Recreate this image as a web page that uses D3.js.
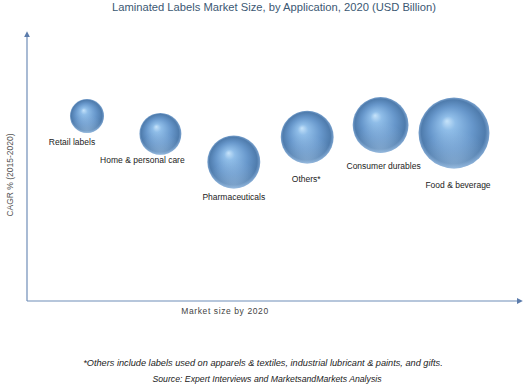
<!DOCTYPE html>
<html>
<head>
<meta charset="utf-8">
<script src="https://cdn.jsdelivr.net/npm/d3@7"></script>
<style>
  body { margin: 0; background: #fff; }
  text { font-family: "Liberation Sans", Arial, sans-serif; }
</style>
</head>
<body>
<script>
var width = 530;
var height = 387;

// data (x = rank by market size, y = CAGR estimate, r = market size)
var categories = ['Retail labels', 'Home & personal care', 'Pharmaceuticals', 'Others*', 'Consumer durables', 'Food & beverage'];
var cagr = [6.85, 6.19, 5.15, 6.07, 6.52, 6.22];
var marketSize = [0.29, 0.44, 0.70, 0.70, 0.78, 1.26];

// label nudges relative to bubble bottom
var labelDx = [-15, -18, 0, -1, 3, 4];
var labelDy = [12, 8, 12, 18, 16, 19];

var svg = d3.select('body')
  .append('svg')
  .attr('width', width)
  .attr('height', height);

var x = d3.scalePoint()
  .domain(categories)
  .range([87, 454]);

var y = d3.scaleLinear()
  .domain([0, 10])
  .range([301, 31]);

var r = d3.scaleSqrt()
  .domain([0, d3.max(marketSize)])
  .range([0, 35.5]);

var defs = svg.append('defs');

var grad = defs.append('radialGradient')
  .attr('id', 'sphere')
  .attr('cx', '50%').attr('cy', '50%').attr('r', '50%')
  .attr('fx', '40%').attr('fy', '33%');
grad.append('stop').attr('offset', '0%').attr('stop-color', '#c6e3fa');
grad.append('stop').attr('offset', '20%').attr('stop-color', '#8fbde8');
grad.append('stop').attr('offset', '60%').attr('stop-color', '#6797cb');
grad.append('stop').attr('offset', '90%').attr('stop-color', '#4f7cad');
grad.append('stop').attr('offset', '100%').attr('stop-color', '#7ba3cf');

var rim = defs.append('radialGradient')
  .attr('id', 'rim')
  .attr('cx', '50%').attr('cy', '100%').attr('r', '55%');
rim.append('stop').attr('offset', '0%').attr('stop-color', '#b5d4f0').attr('stop-opacity', 0.5);
rim.append('stop').attr('offset', '100%').attr('stop-color', '#b5d4f0').attr('stop-opacity', 0);

var arrow = defs.append('marker')
  .attr('id', 'arrow')
  .attr('viewBox', '0 0 10 10')
  .attr('refX', 2).attr('refY', 5)
  .attr('markerWidth', 5).attr('markerHeight', 5)
  .attr('orient', 'auto');
arrow.append('path').attr('d', 'M0,0 L10,5 L0,10 z').attr('fill', '#5b7bab');

// title
svg.append('text')
  .attr('x', 274)
  .attr('y', 11)
  .attr('text-anchor', 'middle')
  .attr('font-size', 11.2)
  .attr('fill', '#3b5873')
  .text('Laminated Labels Market Size, by Application, 2020 (USD Billion)');

// axes
svg.append('path')
  .attr('d', 'M27,301 L27,36')
  .attr('stroke', '#6f8db8')
  .attr('stroke-width', 1.2)
  .attr('fill', 'none')
  .attr('marker-end', 'url(#arrow)');

svg.append('path')
  .attr('d', 'M27,301 L518,301')
  .attr('stroke', '#6f8db8')
  .attr('stroke-width', 1.2)
  .attr('fill', 'none')
  .attr('marker-end', 'url(#arrow)');

svg.append('text')
  .attr('transform', 'translate(13,175) rotate(-90)')
  .attr('text-anchor', 'middle')
  .attr('font-size', 8.5)
  .attr('fill', '#555')
  .text('CAGR % (2015-2020)');

svg.append('text')
  .attr('x', 225)
  .attr('y', 314)
  .attr('text-anchor', 'middle')
  .attr('font-size', 8.5)
  .attr('letter-spacing', 0.6)
  .attr('fill', '#444')
  .text('Market size by 2020');

// bubbles
var bubbles = svg.append('g')
  .selectAll('g')
  .data(categories)
  .enter()
  .append('g');

bubbles.append('circle')
  .attr('cx', function(d) { return x(d); })
  .attr('cy', function(d, i) { return y(cagr[i]); })
  .attr('r', function(d, i) { return r(marketSize[i]); })
  .attr('fill', 'url(#sphere)');

bubbles.append('circle')
  .attr('cx', function(d) { return x(d); })
  .attr('cy', function(d, i) { return y(cagr[i]); })
  .attr('r', function(d, i) { return r(marketSize[i]); })
  .attr('fill', 'url(#rim)');

bubbles.append('text')
  .attr('x', function(d, i) { return x(d) + labelDx[i]; })
  .attr('y', function(d, i) { return y(cagr[i]) + r(marketSize[i]) + labelDy[i]; })
  .attr('text-anchor', 'middle')
  .attr('font-size', 8.5)
  .attr('fill', '#222')
  .text(function(d) { return d; });

// notes
svg.append('text')
  .attr('x', 263)
  .attr('y', 366)
  .attr('text-anchor', 'middle')
  .attr('font-size', 9.2)
  .attr('font-style', 'italic')
  .attr('fill', '#222')
  .text('*Others include labels used on apparels & textiles, industrial lubricant & paints, and gifts.');

svg.append('text')
  .attr('x', 267)
  .attr('y', 382)
  .attr('text-anchor', 'middle')
  .attr('font-size', 8.7)
  .attr('font-style', 'italic')
  .attr('fill', '#222')
  .text('Source: Expert Interviews and MarketsandMarkets Analysis');
</script>
</body>
</html>
